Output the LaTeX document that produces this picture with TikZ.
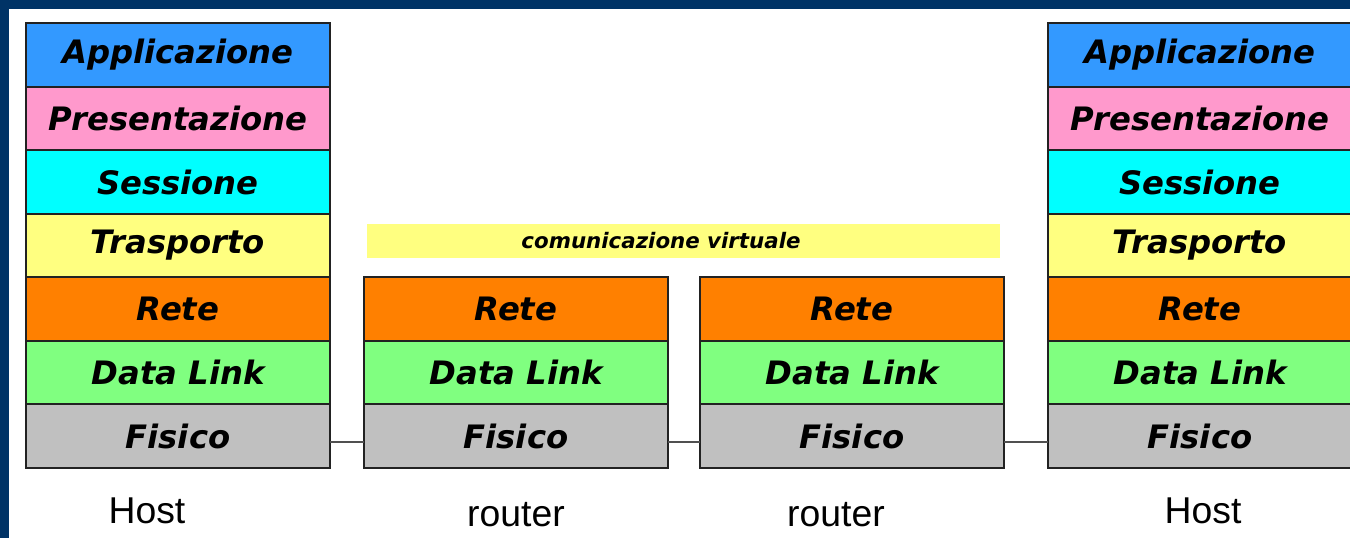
\documentclass[tikz,border=0pt]{standalone}
\usepackage{fontspec}
\newfontfamily\layerfont{DejaVu Sans}
\newfontfamily\labelfont{Liberation Sans}
\usetikzlibrary{calc}

\tikzset{every picture/.style={line width=0.75pt}}
\tikzset{
  layer/.style={draw={rgb, 255:red, 34; green, 34; blue, 34 }, line width=1.5pt, minimum width=228pt, minimum height=47.7pt, inner sep=0pt, outer sep=0pt, font=\layerfont\bfseries\itshape\fontsize{24.2}{28}\selectfont},
  app/.style={fill={rgb, 255:red, 51; green, 153; blue, 255 }},
  pres/.style={fill={rgb, 255:red, 255; green, 153; blue, 204 }},
  sess/.style={fill={rgb, 255:red, 0; green, 255; blue, 255 }},
  trasp/.style={fill={rgb, 255:red, 255; green, 255; blue, 128 }},
  rete/.style={fill={rgb, 255:red, 255; green, 128; blue, 0 }},
  dlink/.style={fill={rgb, 255:red, 128; green, 255; blue, 128 }},
  fis/.style={fill={rgb, 255:red, 192; green, 192; blue, 192 }},
  link/.style={color={rgb, 255:red, 80; green, 80; blue, 80 }, line width=1.1pt},
  devname/.style={anchor=base, inner sep=0.75pt, font=\labelfont\fontsize{28}{32}\selectfont}
}

\begin{document}
\begin{tikzpicture}[x=0.75pt,y=0.75pt,yscale=-1,xscale=1]
\useasboundingbox (0,0) rectangle (1350,538);
\clip (0,0) rectangle (1350,538);
%Frame
\fill [color={rgb, 255:red, 0; green, 51; blue, 102 }] (0,0) rectangle (1350,538);
\fill [white] (9,9) rectangle (1360,548);
%Virtual link band
\draw (683.5,241) node [fill={rgb, 255:red, 255; green, 255; blue, 128 }, minimum width=474.75pt, minimum height=25.5pt, inner sep=0pt] (band) {};
\draw (661,241) node [inner sep=0.75pt, font=\layerfont\bfseries\itshape\fontsize{16}{19}\selectfont] (virt) {comunicazione virtuale};
%Host A
\draw (178,54.8) node [layer,app] (hAapp) {Applicazione};
\draw (178,118.4) node [layer,pres] (hApres) {Presentazione};
\draw (178,182) node [layer,sess] (hAsess) {Sessione};
\draw (178,245.5) node [layer,trasp] (hAtrasp) {Trasporto};
\draw (178,309.1) node [layer,rete] (hArete) {Rete};
\draw (178,372.7) node [layer,dlink] (hAdl) {Data Link};
\draw (178,436.2) node [layer,fis] (hAfis) {Fisico};
%Router A
\draw (516,309.1) node [layer,rete] (rArete) {Rete};
\draw (516,372.7) node [layer,dlink] (rAdl) {Data Link};
\draw (516,436.2) node [layer,fis] (rAfis) {Fisico};
%Router B
\draw (852,309.1) node [layer,rete] (rBrete) {Rete};
\draw (852,372.7) node [layer,dlink] (rBdl) {Data Link};
\draw (852,436.2) node [layer,fis] (rBfis) {Fisico};
%Host B
\draw (1200,54.8) node [layer,app] (hBapp) {Applicazione};
\draw (1200,118.4) node [layer,pres] (hBpres) {Presentazione};
\draw (1200,182) node [layer,sess] (hBsess) {Sessione};
\draw (1200,245.5) node [layer,trasp] (hBtrasp) {Trasporto};
\draw (1200,309.1) node [layer,rete] (hBrete) {Rete};
\draw (1200,372.7) node [layer,dlink] (hBdl) {Data Link};
\draw (1200,436.2) node [layer,fis] (hBfis) {Fisico};
%Physical links
\draw [link] ($(hAfis.east)+(0,6)$) -- ($(rAfis.west)+(0,6)$);
\draw [link] ($(rAfis.east)+(0,6)$) -- ($(rBfis.west)+(0,6)$);
\draw [link] ($(rBfis.east)+(0,6)$) -- ($(hBfis.west)+(0,6)$);
% Text Node
\draw (147,523) node [devname] (hAname) {Host};
\draw (516,526) node [devname] (rAname) {router};
\draw (836,526) node [devname] (rBname) {router};
\draw (1203,523) node [devname] (hBname) {Host};
\end{tikzpicture}
\end{document}
